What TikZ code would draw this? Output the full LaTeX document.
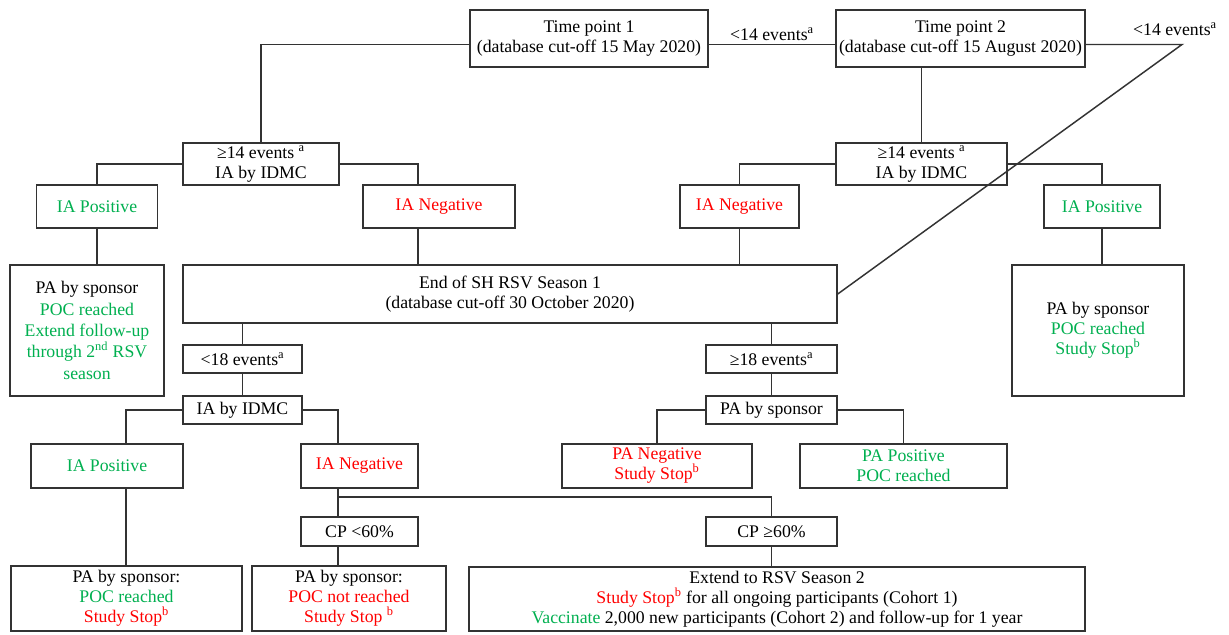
\documentclass[tikz,border=0pt]{standalone}
\usepackage{fontspec}
\setmainfont{Liberation Serif}
\usepackage{tikz}
\usetikzlibrary{positioning,calc}
\usepackage{xcolor}
\definecolor{pos}{RGB}{0,176,80}
\definecolor{neg}{RGB}{255,0,0}

\begin{document}
\begin{tikzpicture}[
    x=0.75pt, y=-0.75pt,
    box/.style={draw=black!80, line width=1.1pt, align=center, inner sep=2pt, font=\fontsize{13.3}{15}\selectfont},
    wh/.style 2 args={minimum width=#1*0.75pt, minimum height=#2*0.75pt},
    lbl/.style={font=\fontsize{13.3}{15}\selectfont, inner sep=1pt},
    link/.style={draw=black!80, line width=1.1pt}
]
    \path[fill=white, use as bounding box] (0,0) rectangle (1229,635);

    % Time points
    \node[box, wh={238}{57}] (tp1) at (589,38.5) {Time point 1\\(database cut-off 15 May 2020)};
    \node[box, wh={249}{57}] (tp2) at (960.5,38.5) {Time point 2\\(database cut-off 15 August 2020)};
    \node[lbl] (few1) at (772,34) {<14 events\textsuperscript{a}};
    \node[lbl] (few2) at (1175,29) {<14 events\textsuperscript{a}};
    \coordinate (bend) at (1182,44.5);

    % Time point 1 branch
    \node[box, wh={156}{42}] (ev14L) at (261,164) {≥14 events \textsuperscript{a}\\IA by IDMC};
    \node[box, wh={121}{43}, text=pos] (iaposL) at (97,206.5) {IA Positive};
    \node[box, wh={152}{43}, text=neg] (ianegL) at (439,206.5) {IA Negative};
    \node[box, wh={154}{131}, font=\fontsize{13.3}{16}\selectfont] (paL) at (87,330.5) {PA by sponsor\\\textcolor{pos}{POC reached}\\\textcolor{pos}{Extend follow-up}\\\textcolor{pos}{through 2\textsuperscript{nd} RSV}\\\textcolor{pos}{season}};
    \coordinate (colA) at (418,0);

    % Time point 2 branch
    \node[box, wh={171}{42}] (ev14R) at (921.5,164) {≥14 events \textsuperscript{a}\\IA by IDMC};
    \node[box, wh={119}{43}, text=neg] (ianegR) at (739.5,206.5) {IA Negative};
    \node[box, wh={116}{43}, text=pos] (iaposR) at (1102,206.5) {IA Positive};
    \node[box, wh={172}{131}] (paR) at (1098,330.5) {PA by sponsor\\\textcolor{pos}{POC reached}\\\textcolor{pos}{Study Stop\textsuperscript{b}}};

    % End of season 1
    \node[box, wh={654}{58}] (endS1) at (510,294) {End of SH RSV Season 1\\(database cut-off 30 October 2020)};
    \node[box, wh={119}{28}] (lt18) at (242.5,359) {<18 events\textsuperscript{a}};
    \node[box, wh={119}{28}] (iaidmc) at (242.5,410) {IA by IDMC};
    \node[box, wh={131}{28}] (ge18) at (771.5,359) {≥18 events\textsuperscript{a}};
    \node[box, wh={131}{28}] (pasp) at (771.5,410) {PA by sponsor};

    % Season 1 outcomes
    \node[box, wh={152}{44}, text=pos] (iaposL2) at (107,466) {IA Positive};
    \node[box, wh={117}{44}, text=neg] (ianegL2) at (359.5,466) {IA Negative};
    \node[box, wh={190}{44}, text=neg] (paneg) at (657,466) {PA Negative\\Study Stop\textsuperscript{b}};
    \node[box, wh={207}{44}, text=pos] (papos) at (903.5,466) {PA Positive\\POC reached};
    \node[box, wh={117}{29}] (cp60L) at (359.5,531.5) {CP <60\%};
    \node[box, wh={131}{29}] (cp60R) at (771.5,531.5) {CP ≥60\%};
    \coordinate (colB) at (126,0);
    \coordinate (colC) at (338,0);
    \coordinate (fork) at (338,497);

    % Final decisions
    \node[box, wh={231}{65}] (paL2) at (126.5,598.5) {PA by sponsor:\\\textcolor{pos}{POC reached}\\\textcolor{neg}{Study Stop\textsuperscript{b}}};
    \node[box, wh={194}{65}] (paL3) at (349,598.5) {PA by sponsor:\\\textcolor{neg}{POC not reached}\\\textcolor{neg}{Study Stop \textsuperscript{b}}};
    \node[box, wh={616}{64}] (cohort) at (777,599) {Extend to RSV Season 2\\\textcolor{neg}{Study Stop\textsuperscript{b}} for all ongoing participants (Cohort 1)\\\textcolor{pos}{Vaccinate} 2,000 new participants (Cohort 2) and follow-up for 1 year};

    % top row links
    \draw[link] ($(tp1.east)+(0,6)$) -- ($(tp2.west)+(0,6)$);
    \draw[link] ($(tp1.west)+(0,6)$) -| (ev14L.north);
    \draw[link] ($(tp2.east)+(0,6)$) -- (bend) -- (endS1.east);
    \draw[link] (ev14R.north) -- (ev14R.north |- tp2.south);

    % interim analyses
    \draw[link] (ev14L.west) -| (iaposL.north);
    \draw[link] (ev14L.east) -| (ianegL.north -| colA);
    \draw[link] (ianegL.south -| colA) -- (endS1.north -| colA);
    \draw[link] (iaposL.south) -- (iaposL.south |- paL.north);
    \draw[link] (ev14R.west) -| (ianegR.north);
    \draw[link] (ev14R.east) -| (iaposR.north);
    \draw[link] (ianegR.south) -- (ianegR.south |- endS1.north);
    \draw[link] (iaposR.south) -- (iaposR.south |- paR.north);

    % season 1
    \draw[link] (endS1.south -| lt18.north) -- (lt18.north);
    \draw[link] (lt18) -- (iaidmc);
    \draw[link] (endS1.south -| ge18.north) -- (ge18.north);
    \draw[link] (ge18) -- (pasp);
    \draw[link] (iaidmc.west) -| (iaposL2.north -| colB);
    \draw[link] (iaidmc.east) -| (ianegL2.north -| colC);
    \draw[link] (pasp.west) -| (paneg.north);
    \draw[link] (pasp.east) -| (papos.north);
    \draw[link] (iaposL2.south -| colB) -- (paL2.north -| colB);
    \draw[link] (ianegL2.south -| colC) -- (cp60L.north -| colC);
    \draw[link] (cp60L.south -| colC) -- (paL3.north -| colC);
    \draw[link] (fork) -| (cp60R.north);
    \draw[link] (cp60R.south) -- (cp60R.south |- cohort.north);
\end{tikzpicture}
\end{document}
